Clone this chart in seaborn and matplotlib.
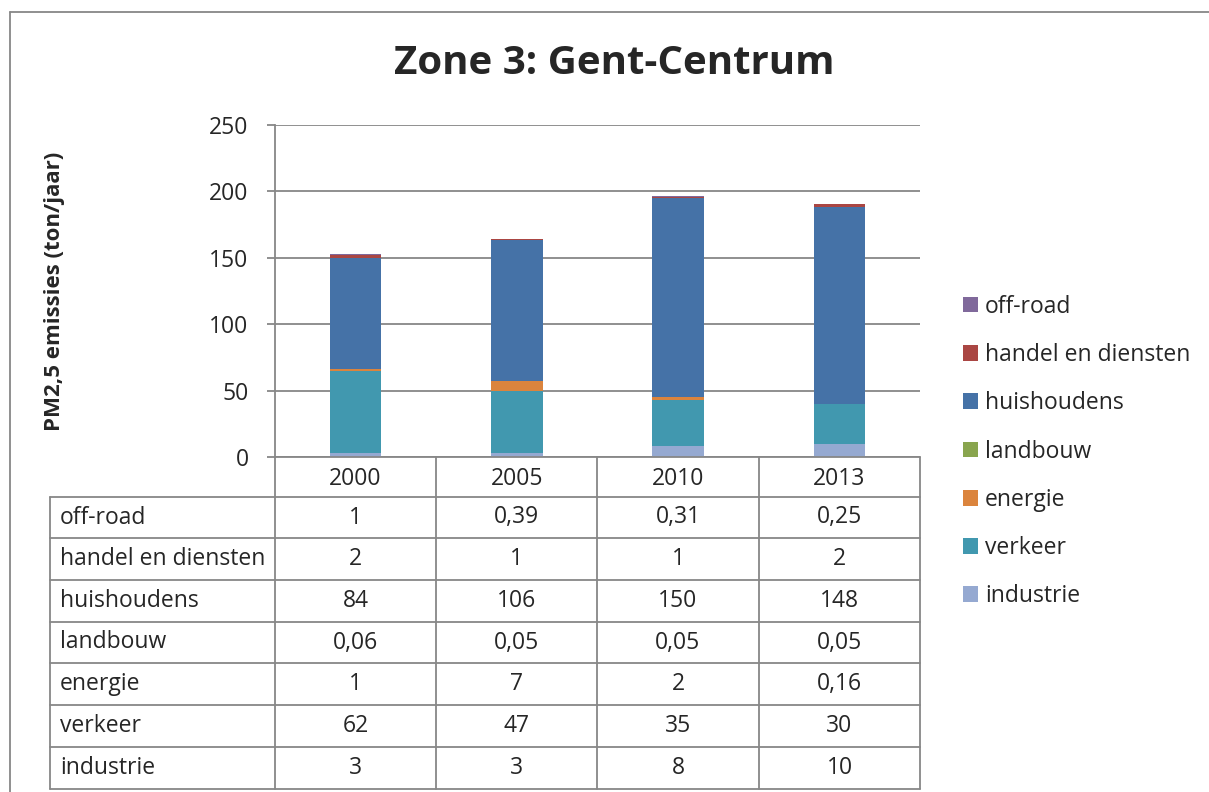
import numpy as np
import pandas as pd
import seaborn as sns
import matplotlib
matplotlib.use("Agg")
import matplotlib.pyplot as plt
from matplotlib.lines import Line2D
from matplotlib.patches import Patch

# data (ton/jaar), stacking order bottom -> top
years = ["2000", "2005", "2010", "2013"]
industrie = [3, 3, 8, 10]
verkeer = [62, 47, 35, 30]
energie = [1, 7, 2, 0.16]
landbouw = [0.06, 0.05, 0.05, 0.05]
huishoudens = [84, 106, 150, 148]
handel = [2, 1, 1, 2]
offroad = [1, 0.39, 0.31, 0.25]

sectors = ["industrie", "verkeer", "energie", "landbouw", "huishoudens", "handel en diensten", "off-road"]
series = [industrie, verkeer, energie, landbouw, huishoudens, handel, offroad]
colors = ["#95A9D1", "#4198AF", "#DB843D", "#89A54E", "#4572A7", "#AA4643", "#80699B"]

sns.set_theme(style="white")
plt.rcParams["font.family"] = ["Open Sans", "DejaVu Sans"]

W, H = 1209, 792
grid_col = "#878787"
fs = 16.5

def fx(x):
    return x / W

def fy(y):
    return 1 - y / H

fig = plt.figure(figsize=(W / 100, H / 100), dpi=100)
ax = fig.add_axes([fx(275), fy(457), (920 - 275) / W, (457 - 125) / H])

# stacked bars: draw cumulative totals from the top down
df = pd.DataFrame({s: v for s, v in zip(sectors, series)}, index=years)
cum = df.cumsum(axis=1)
for s, c in reversed(list(zip(sectors, colors))):
    sns.barplot(x=years, y=cum[s].values, color=c, width=0.32, saturation=1,
                linewidth=0, ax=ax, zorder=3)

ax.set_xlim(-0.5, 3.5)
ax.set_ylim(0, 250)
ax.set_yticks(np.arange(0, 251, 50))
ax.yaxis.grid(True, color=grid_col, lw=1.3, zorder=0)
ax.set_axisbelow(True)
for sp in ["top", "right", "bottom"]:
    ax.spines[sp].set_visible(False)
ax.spines["left"].set_color(grid_col)
ax.spines["left"].set_linewidth(1.3)
ax.tick_params(axis="y", length=6, width=1.3, color=grid_col, pad=13, labelsize=fs, left=True)
ax.tick_params(axis="x", length=0, pad=7, labelsize=fs)
ax.set_xticks(range(len(years)))
ax.set_xticklabels(years)
ax.set_xlabel("")
ax.set_ylabel("PM2,5 emissies (ton/jaar)", fontsize=16, fontweight="bold")
ax.yaxis.set_label_coords((65 - 275) / 645, 0.5)

fig.text(fx(614), fy(63), "Zone 3: Gent-Centrum", ha="center", va="center",
         fontsize=29, fontweight="bold")

# data table under the chart
def line(x0, y0, x1, y1):
    fig.add_artist(Line2D([fx(x0), fx(x1)], [fy(y0), fy(y1)], color=grid_col, lw=1.3))

col_x = [275, 436, 597, 759, 920]
row_y = [497, 538, 580, 622, 663, 705, 747, 789]
line(275, 457, 920, 457)
for x in col_x:
    line(x, 457, x, 789)
line(50, 497, 50, 789)
for y in row_y:
    line(50, y, 920, y)

def fmt(v):
    return f"{v:g}".replace(".", ",")

table_rows = list(zip(sectors, series))[::-1]
for i, (name, vals) in enumerate(table_rows):
    yc = (row_y[i] + row_y[i + 1]) / 2
    fig.text(fx(60), fy(yc), name, ha="left", va="center", fontsize=fs)
    for j, v in enumerate(vals):
        xc = (col_x[j] + col_x[j + 1]) / 2
        fig.text(fx(xc), fy(yc), fmt(v), ha="center", va="center", fontsize=fs)

# outer chart border
line(10, 12, W, 12)
line(10, 12, 10, H)

handles = [Patch(facecolor=c, edgecolor="none") for c in colors[::-1]]
fig.legend(handles, sectors[::-1], loc="upper left", bbox_to_anchor=(fx(942), fy(274)),
           frameon=False, fontsize=fs, handlelength=0.68, handleheight=0.68,
           handletextpad=0.3, labelspacing=1.06)

fig.savefig("out.png", dpi=100)
